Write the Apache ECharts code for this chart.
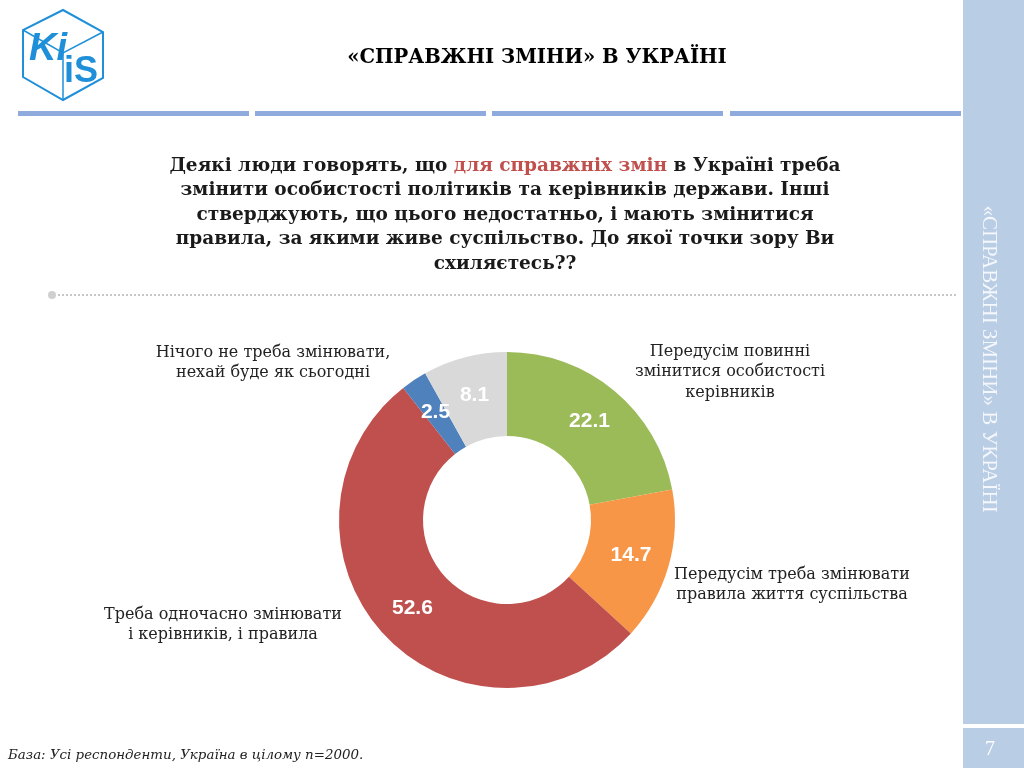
<!DOCTYPE html>
<html>
<head>
<meta charset="utf-8">
<script src="https://cdn.jsdelivr.net/npm/echarts@6/dist/echarts.min.js"></script>
<style>
html,body{margin:0;padding:0;background:#fff;}
#chart{width:1024px;height:768px;}
</style>
</head>
<body>
<div id="chart"></div>
<script>
// ---- data ----
const categories = [
  'Передусім повинні\nзмінитися особистості\nкерівників',
  'Передусім треба змінювати\nправила життя суспільства',
  'Треба одночасно змінювати\nі керівників, і правила',
  'Нічого не треба змінювати,\nнехай буде як сьогодні',
  'Важко відповісти'
];
const values = [22.1, 14.7, 52.6, 2.5, 8.1];
const colors = ['#9BBB59', '#F79646', '#C0504D', '#4F81BD', '#D9D9D9'];
const showName = [true, true, true, true, false];
// label block centres (layout)
const labelPos = [[730, 372], [792, 585], [223, 625], [273, 363], [0, 0]];

const titleText = '«СПРАВЖНІ ЗМІНИ» В УКРАЇНІ';
const questionLines = [
  'Деякі люди говорять, що {r|для справжніх змін} в Україні треба',
  'змінити особистості політиків та керівників держави. Інші',
  'стверджують, що цього недостатньо, і мають змінитися',
  'правила, за якими живе суспільство. До якої точки зору Ви',
  'схиляєтесь??'
];
const footnote = 'База: Усі респонденти, Україна в цілому n=2000.';
const pageNo = '7';

const chart = echarts.init(document.getElementById('chart'), null, {renderer: 'canvas'});

const sideColor = '#B9CDE5';
const barColor = '#8FAADC';
const logoBlue = '#1E8FD8';

const graphics = [
  // right sidebar
  {type: 'rect', shape: {x: 963, y: 0, width: 61, height: 724}, style: {fill: sideColor}},
  {type: 'rect', shape: {x: 963, y: 728, width: 61, height: 40}, style: {fill: sideColor}},
  {type: 'text', x: 990, y: 750, style: {text: pageNo, fill: '#fff', font: '20px "Liberation Serif"', align: 'center', verticalAlign: 'middle'}},
  {type: 'text', x: 989, y: 359, rotation: -Math.PI / 2, style: {text: titleText, fill: '#F4F7FB', font: '21px "Liberation Serif"', align: 'center', verticalAlign: 'middle'}},
  // header bars
  {type: 'rect', shape: {x: 18, y: 111, width: 231, height: 5}, style: {fill: barColor}},
  {type: 'rect', shape: {x: 255, y: 111, width: 231, height: 5}, style: {fill: barColor}},
  {type: 'rect', shape: {x: 492, y: 111, width: 231, height: 5}, style: {fill: barColor}},
  {type: 'rect', shape: {x: 730, y: 111, width: 231, height: 5}, style: {fill: barColor}},
  // title
  {type: 'text', x: 537, y: 58, style: {text: titleText, fill: '#000', font: 'bold 19.6px "DejaVu Serif"', align: 'center', verticalAlign: 'middle'}},
  // logo
  {type: 'polygon', shape: {points: [[63, 10], [103, 32], [103, 78], [63, 100], [23, 77], [23, 30]]}, style: {fill: 'none', stroke: logoBlue, lineWidth: 2}},
  {type: 'polyline', shape: {points: [[23, 30], [63, 53], [103, 32]]}, style: {fill: 'none', stroke: logoBlue, lineWidth: 1.5}},
  {type: 'polyline', shape: {points: [[63, 53], [63, 100]]}, style: {fill: 'none', stroke: logoBlue, lineWidth: 1.5}},
  {type: 'text', x: 29, y: 50, style: {text: 'Ki', fill: logoBlue, font: 'italic bold 38px "Liberation Sans"', verticalAlign: 'middle'}},
  {type: 'text', x: 64, y: 72, style: {text: 'iS', fill: logoBlue, font: 'bold 36px "Liberation Sans"', verticalAlign: 'middle'}},
  // question
  {type: 'text', x: 505, y: 215, style: {
    text: questionLines.join('\n'),
    fill: '#1a1a1a', font: 'bold 18.5px "DejaVu Serif"', lineHeight: 24.5,
    align: 'center', verticalAlign: 'middle',
    rich: {r: {fill: '#C0504D', font: 'bold 18.5px "DejaVu Serif"', lineHeight: 24.5}}
  }},
  // dotted separator
  {type: 'line', shape: {x1: 58, y1: 295, x2: 958, y2: 295}, style: {stroke: '#C8C8C8', lineWidth: 2, lineDash: [2, 2]}},
  {type: 'circle', shape: {cx: 52, cy: 295, r: 4}, style: {fill: '#D0D0D0'}},
  // footnote
  {type: 'text', x: 8, y: 756, style: {text: footnote, fill: '#222', font: 'italic 13.4px "DejaVu Serif"', verticalAlign: 'middle'}}
];

const seriesData = categories.map((c, i) => ({name: c, value: values[i], itemStyle: {color: colors[i]}}));

chart.setOption({
  animation: false,
  backgroundColor: '#fff',
  graphic: graphics,
  series: [
    {
      type: 'pie',
      center: [507, 520],
      radius: [84, 168],
      startAngle: 90,
      clockwise: true,
      silent: true,
      itemStyle: {borderWidth: 0},
      label: {
        show: true, position: 'inside', formatter: p => p.value.toFixed(1),
        color: '#fff', fontFamily: 'Liberation Sans', fontWeight: 'bold', fontSize: 21
      },
      labelLine: {show: false},
      data: seriesData
    },
    {
      type: 'pie',
      center: [507, 520],
      radius: [84, 168],
      startAngle: 90,
      clockwise: true,
      silent: true,
      z: 3,
      itemStyle: {color: 'rgba(0,0,0,0)'},
      label: {
        show: true, position: 'outside', formatter: '{b}',
        color: '#222', fontFamily: 'DejaVu Serif', fontSize: 16, lineHeight: 20.5, align: 'center'
      },
      labelLine: {show: false},
      labelLayout: p => ({x: labelPos[p.dataIndex][0], y: labelPos[p.dataIndex][1], align: 'center', verticalAlign: 'middle'}),
      data: categories.map((c, i) => ({name: c, value: values[i], label: {show: showName[i]}}))
    }
  ]
});
</script>
</body>
</html>
